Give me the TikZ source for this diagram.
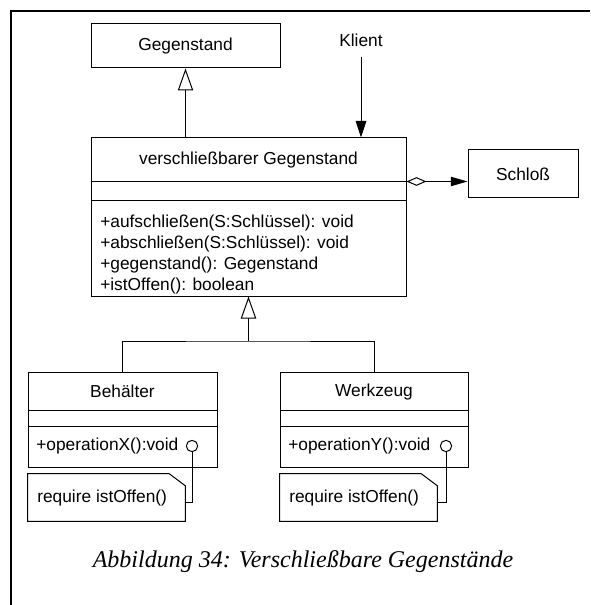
\documentclass[tikz,border=0pt]{standalone}
\usepackage{fontspec}
\setmainfont{Liberation Sans}
\newfontfamily\capfont{Liberation Serif}
\usetikzlibrary{arrows.meta, positioning, calc}
\newcommand{\umlfont}{\fontsize{13}{15.75}\selectfont}
\tikzset{
    classbox/.style={
        draw,
        line width=0.75pt,
        inner sep=0pt,
        font=\umlfont
    },
    notebox/.style={inner sep=0pt, minimum width=117.75pt, minimum height=35.25pt},
    txt/.style={inner sep=0pt, font=\umlfont},
    oplist/.style={inner sep=0pt, font=\umlfont, align=left, anchor=west},
    line/.style={line width=0.75pt},
    inherit/.style={line width=0.75pt, -{Triangle[open, length=16.5pt, width=11.5pt, fill=white]}},
    navig/.style={line width=0.75pt, -{Triangle[length=12.5pt, width=8pt]}},
    aggr/.style={line width=0.75pt, {Diamond[open, length=15pt, width=6.5pt]}-{Triangle[length=12.5pt, width=7pt]}},
    port/.style={draw, circle, line width=0.75pt, inner sep=0pt, minimum size=8.5pt, fill=white},
    frame/.style={line width=1pt}
}

\begin{document}
\begin{tikzpicture}[x=0.75pt, y=-0.75pt]
\useasboundingbox (0,0) rectangle (590,605);
\draw[frame] (11,605) -- (11,11) -- (590,11);

% oberste Klasse
\node[classbox, minimum width=141.75pt, minimum height=33pt] (gegenstand) at (185.5,46) {Gegenstand};

% verschliessbarer Gegenstand
\node[classbox, minimum width=236.25pt, minimum height=118.5pt] (vg) at (248.5,217) {};
\node[txt] (vgname) at (248.5,160) {verschließbarer Gegenstand};
\draw[line] ([yshift=-33pt]vg.north west) -- ([yshift=-33pt]vg.north east) coordinate (sepA);
\draw[line] ([yshift=-47.25pt]vg.north west) -- ([yshift=-47.25pt]vg.north east);
\node[oplist] (vgops) at (100,255) {+aufschließen(S:Schlüssel): void\\+abschließen(S:Schlüssel): void\\+gegenstand(): Gegenstand\\+istOffen(): boolean};

\draw[inherit] (vg.north -| gegenstand.south) -- (gegenstand.south);

% Klient und Schloss
\node[txt] (klient) at (361,40) {Klient};
\draw[navig] ([yshift=-7.5pt]klient.south) -- (klient.south |- vg.north);

\node[classbox, minimum width=82.5pt, minimum height=36pt] (schloss) at (523,174) {Schloß};
\draw[aggr] (sepA) -- (sepA -| schloss.west);

% Behaelter
\node[classbox, minimum width=141.75pt, minimum height=71.25pt] (behaelter) at (122.5,419.5) {};
\node[txt] (behname) at (122.5,391) {Behälter};
\draw[line] ([yshift=-29.25pt]behaelter.north west) -- ([yshift=-29.25pt]behaelter.north east);
\draw[line] ([yshift=-41.25pt]behaelter.north west) -- ([yshift=-41.25pt]behaelter.north east);
\node[txt, anchor=west] (opX) at (36,446) {+operationX():void};
\node[port] (portX) at (192,446) {};

\node[notebox] (noteX) at (106.5,497.5) {};
\node[txt, anchor=west] (reqX) at (37,498) {require istOffen()};
\draw[line] (noteX.north west) -- ([xshift=-12pt]noteX.north east) -- ([yshift=-9pt]noteX.north east) -- (noteX.south east) -- (noteX.south west) -- cycle;
\draw[line] (portX.south) |- ([yshift=-4pt]noteX.east);

% Werkzeug
\node[classbox, minimum width=141pt, minimum height=71.25pt] (werkzeug) at (374,419.5) {};
\node[txt] (werkname) at (374,392) {Werkzeug};
\draw[line] ([yshift=-29.25pt]werkzeug.north west) -- ([yshift=-29.25pt]werkzeug.north east);
\draw[line] ([yshift=-41.25pt]werkzeug.north west) -- ([yshift=-41.25pt]werkzeug.north east);
\node[txt, anchor=west] (opY) at (288,446) {+operationY():void};
\node[port] (portY) at (446,446) {};

\node[notebox] (noteY) at (358.5,497.5) {};
\node[txt, anchor=west] (reqY) at (289,498) {require istOffen()};
\draw[line] (noteY.north west) -- ([xshift=-12pt]noteY.north east) -- ([yshift=-9pt]noteY.north east) -- (noteY.south east) -- (noteY.south west) -- cycle;
\draw[line] (portY.south) |- ([yshift=-4pt]noteY.east);

% Vererbung nach unten
\coordinate (split) at (248.5,341);
\draw[line] (behaelter.north) |- (split) -| (werkzeug.north);
\draw[inherit] (split) -- (vg.south);

\node[font=\capfont\itshape\fontsize{18}{22}\selectfont] (caption) at (303,562) {Abbildung 34: Verschließbare Gegenstände};
\end{tikzpicture}
\end{document}
